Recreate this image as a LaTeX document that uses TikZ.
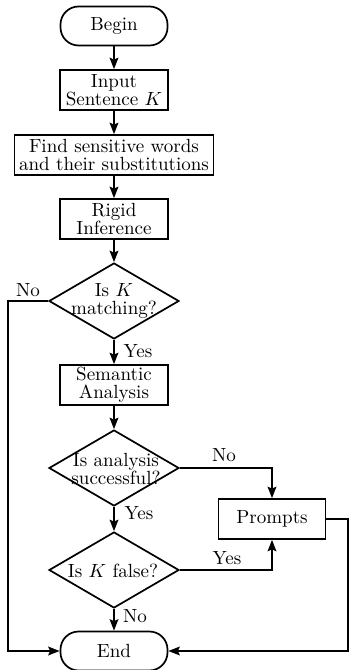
\documentclass[tikz,border=0pt]{standalone}
\usetikzlibrary{shapes.geometric,arrows.meta}
\newcommand\pxu{0.525pt}
\begin{document}
\begin{tikzpicture}[x=0.525pt,y=-0.525pt,
  every node/.style={font=\fontsize{10}{9.3}\selectfont, align=center},
  box/.style={draw, line width=0.9pt, rectangle, inner sep=0pt, minimum width=108*\pxu, minimum height=40*\pxu},
  term/.style={draw, line width=0.9pt, rectangle, rounded corners=9.5pt, inner sep=0pt, minimum width=107*\pxu, minimum height=39*\pxu},
  dia/.style={draw, line width=0.9pt, diamond, inner sep=0pt, minimum width=130*\pxu, minimum height=76*\pxu},
  txt/.style={inner sep=0pt},
  lab/.style={inner sep=0pt},
  conn/.style={line width=0.9pt, -{Stealth[length=6pt,width=4.6pt,inset=1pt]}},
  line/.style={line width=0.9pt}]
\useasboundingbox (0,0) rectangle (350,670);
\node[term] (begin) at (114,26) {Begin};
\node[box] (input) at (114,90) {Input\\Sentence $K$};
\node[box, minimum width=199*\pxu, minimum height=40*\pxu] (find) at (114,155) {Find sensitive words\\and their substitutions};
\node[box] (rigid) at (114,219) {Rigid\\Inference};
\node[dia] (d1) at (114,301) {};
\node[txt] (d1t) at (114,301) {Is $K$\\matching?};
\node[box] (sem) at (114,385) {Semantic\\Analysis};
\node[dia] (d2) at (114,468) {};
\node[txt] (d2t) at (116,469) {Is analysis\\successful?};
\node[dia] (d3) at (114,570) {};
\node[txt] (d3t) at (113,571) {Is $K$ false?};
\node[term] (end) at (114,651) {End};
\node[box, minimum width=107*\pxu] (prompts) at (272,519) {Prompts};
\coordinate (L) at (8,651);
\coordinate (R) at (348,651);
\draw[conn] (begin) -- (input);
\draw[conn] (input) -- (find);
\draw[conn] (find) -- (rigid);
\draw[conn] (rigid) -- (d1);
\draw[conn] (d1) -- (sem);
\draw[conn] (sem) -- (d2);
\draw[conn] (d2) -- (d3);
\draw[conn] (d3) -- (end);
\draw[conn] (d1.west) -| (L) -- (end.west);
\draw[conn] (prompts.east) -| (R) -- (end.east);
\draw[conn] (d2.east) -| (prompts.north);
\draw[conn] (d3.east) -| (prompts.south);
\node[lab] (l1) at (28,290) {No};
\node[lab] (l2) at (138,351) {Yes};
\node[lab] (l3) at (139,513) {Yes};
\node[lab] (l4) at (135,616) {No};
\node[lab] (l5) at (224,455) {No};
\node[lab] (l6) at (227,558) {Yes};
\end{tikzpicture}
\end{document}
